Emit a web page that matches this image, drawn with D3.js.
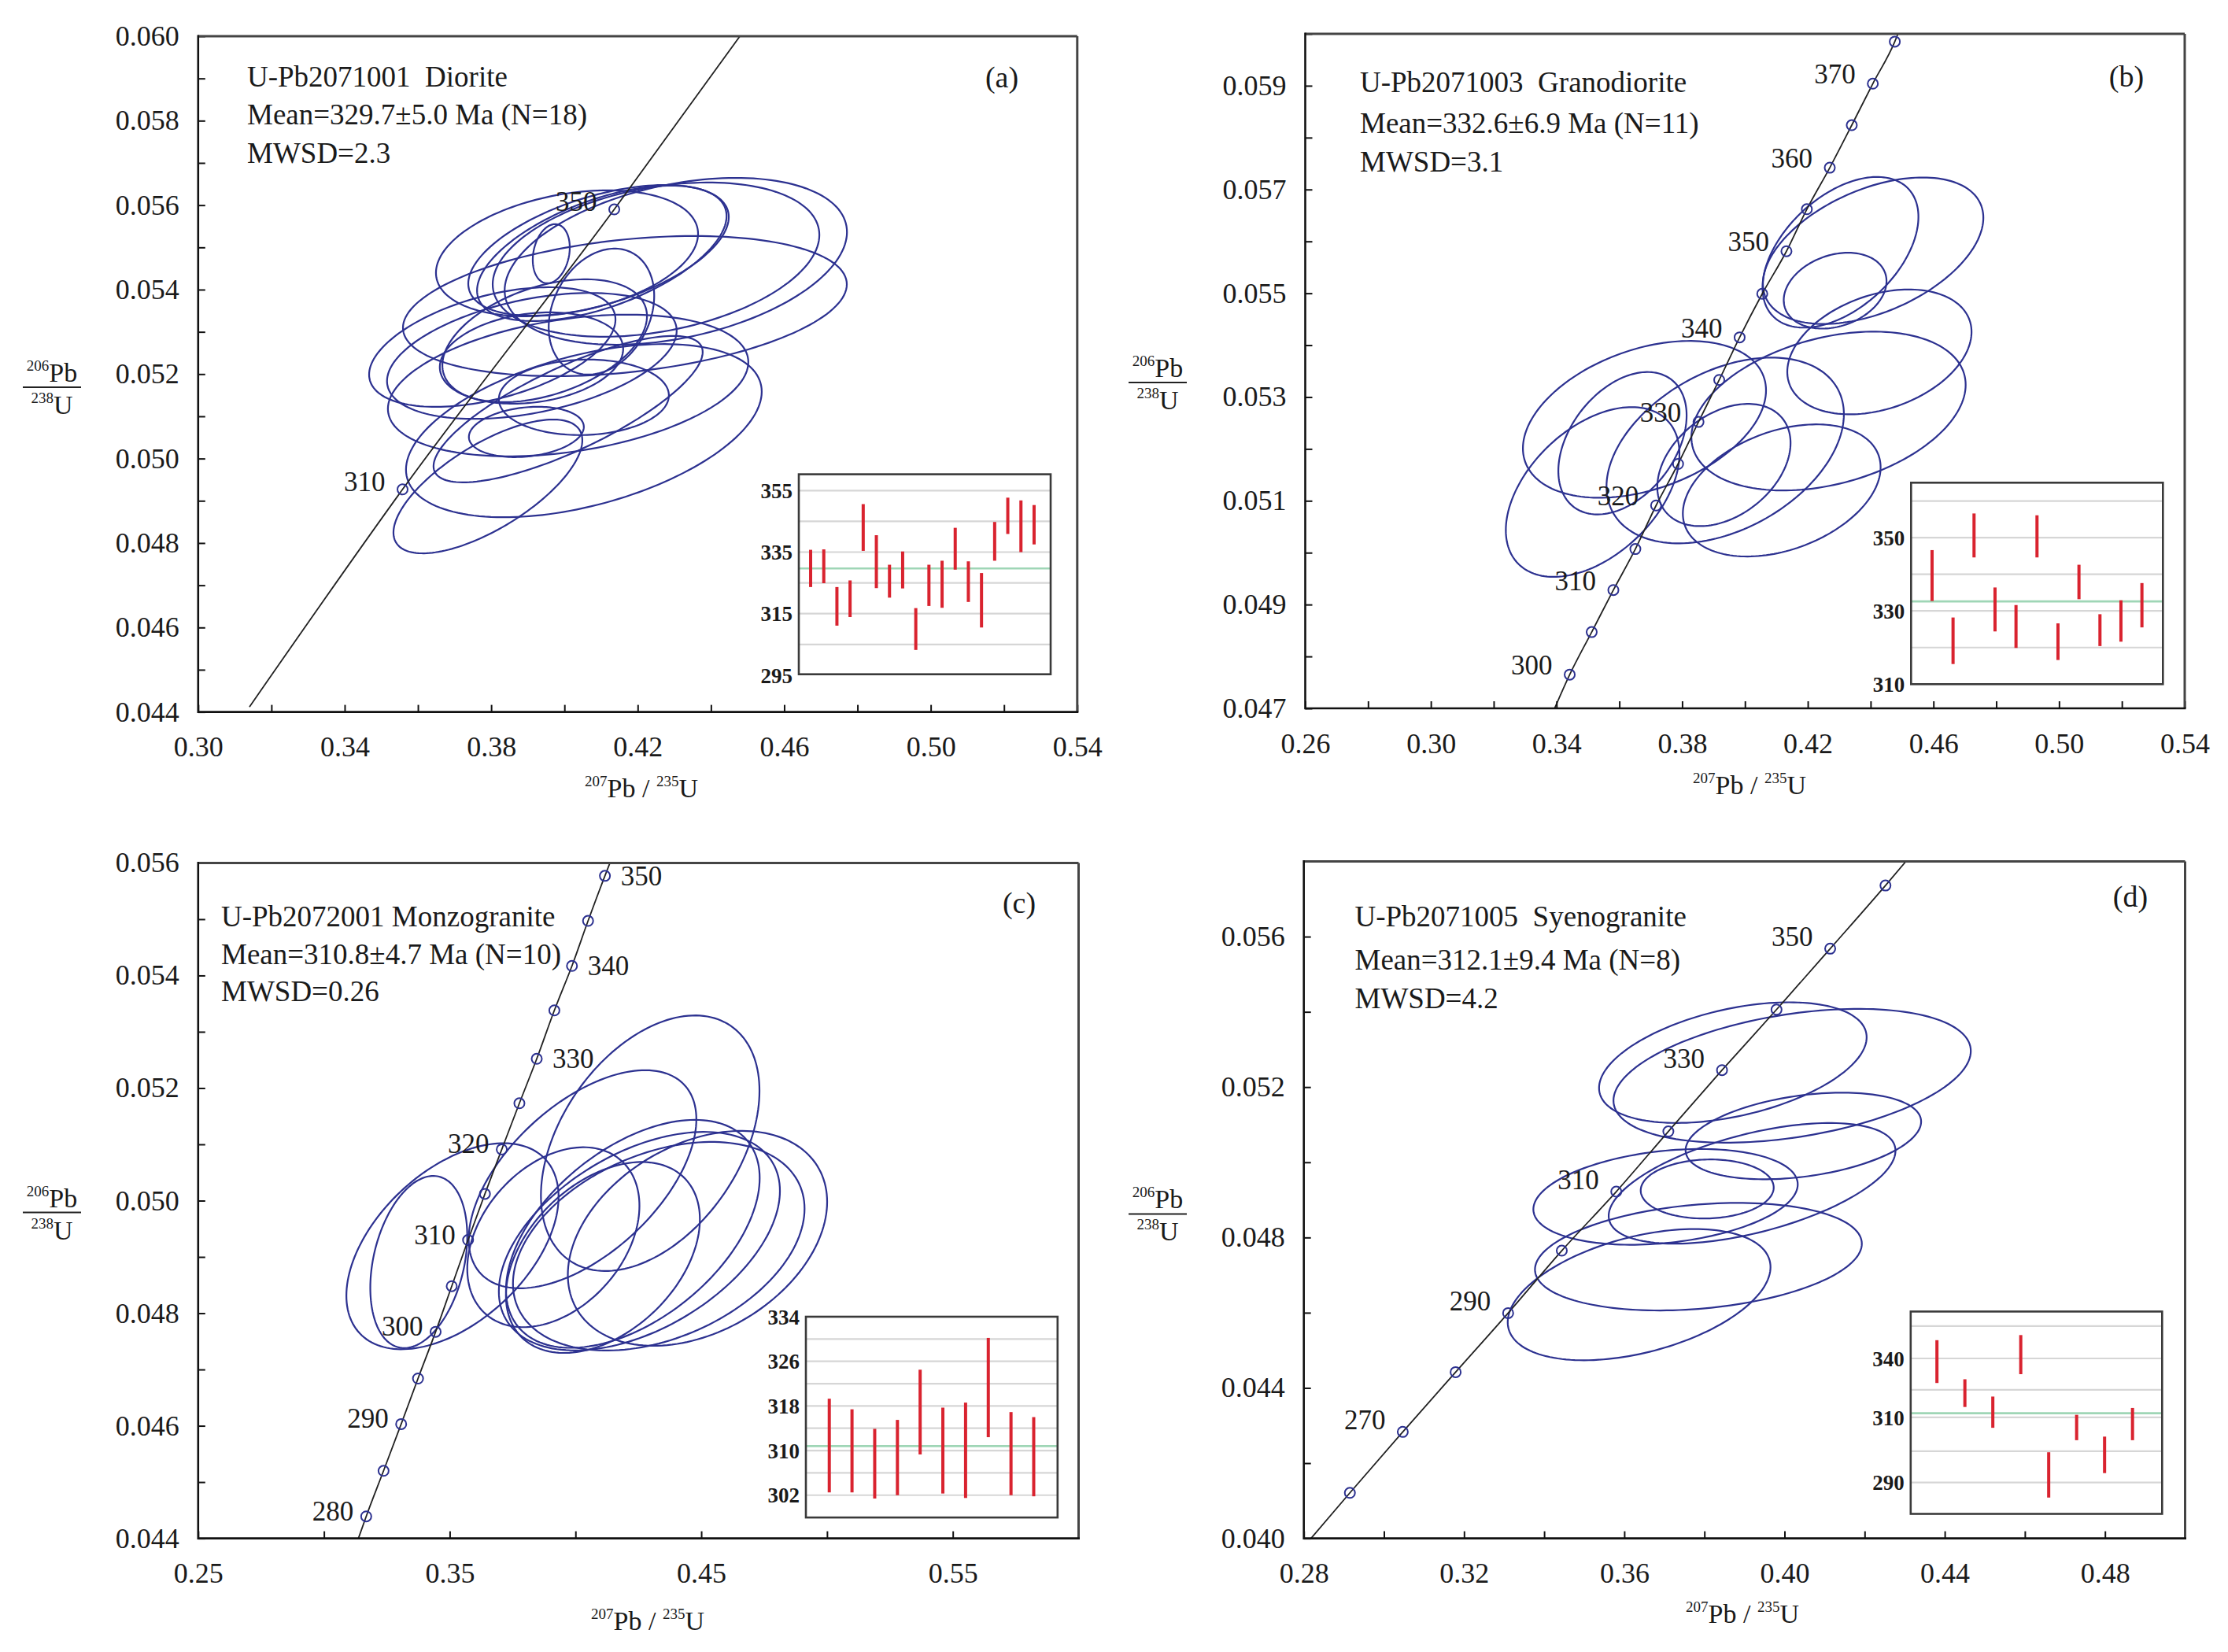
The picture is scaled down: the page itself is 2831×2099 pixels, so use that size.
<!DOCTYPE html>
<html><head><meta charset="utf-8">
<script src="https://cdn.jsdelivr.net/npm/d3@7"></script>
<style>
body{margin:0;background:#fff;}
svg text{font-family:"Liberation Serif","Times New Roman",serif;fill:#1a1a1a;}
.pre{white-space:pre;}
</style></head><body>
<svg id="chart" width="2831" height="2099"></svg>
<script>
// ================= DATA =================
// ---- Panel (a) U-Pb2071001 Diorite ----
const titleA = ["U-Pb2071001  Diorite", "Mean=329.7\u00b15.0 Ma (N=18)", "MWSD=2.3"];
const ellA_x   = [0.4304,0.4250,0.4165,0.4093,0.4007,0.3964,0.4101,0.3946,0.4102,0.3910,0.4053,0.3896,0.3791,0.4053,0.4010,0.4010,0.3803,0.3911];
const ellA_y   = [0.05467,0.05471,0.05361,0.05493,0.05486,0.05485,0.05348,0.05279,0.05486,0.05238,0.05145,0.05063,0.04934,0.05066,0.05173,0.05117,0.05264,0.05243];
const ellA_ex  = [0.04673,0.04459,0.06059,0.03556,0.03578,0.00505,0.0144,0.02793,0.03406,0.02503,0.02321,0.01569,0.02578,0.04856,0.0492,0.03674,0.03363,0.03954];
const ellA_ey  = [0.001975,0.001826,0.001659,0.001547,0.001491,0.0007,0.001491,0.001454,0.001603,0.001081,0.000894,0.000596,0.001584,0.00205,0.001677,0.001733,0.001416,0.001491];
const ellA_rho = [0.35,0.32,0.31,0.51,0.31,0.21,0.25,0.40,0.55,0.20,0.05,0.20,0.69,0.45,0.33,0.78,0.46,0.40];
const concA_age = [310, 350];
const concA_x = [0.3558, 0.4136];
const concA_y = [0.04927, 0.05590];
const concA_ends = [[0.3140, 0.04412], [0.4479, 0.0600]];
const concA_lab = [310, 350];
const xTicksA = [0.30,0.32,0.34,0.36,0.38,0.40,0.42,0.44,0.46,0.48,0.50,0.52,0.54];
const xLabsA  = [0.30,0.34,0.38,0.42,0.46,0.50,0.54];
const yTicksA = [0.044,0.045,0.046,0.047,0.048,0.049,0.050,0.051,0.052,0.053,0.054,0.055,0.056,0.057,0.058,0.059,0.060];
const yLabsA  = [0.044,0.046,0.048,0.050,0.052,0.054,0.056,0.058,0.060];
const insA_lo = [323.65,324.9,311.1,313.9,335.4,323.3,320.2,323.2,303.2,317.5,316.9,329.3,318.8,310.5,332.2,340.9,335.0,337.5];
const insA_hi = [335.75,335.9,323.65,325.8,350.6,340.5,330.9,335.2,316.8,330.9,332.2,342.9,332.0,328.2,344.8,352.7,351.8,350.3];
const insA_mean = 329.7;
const insA_labels = [355,335,315,295];
const insA_grid = [305,315,325,335,345,355];

// ---- Panel (b) U-Pb2071003 Granodiorite ----
const titleB = ["U-Pb2071003  Granodiorite", "Mean=332.6\u00b16.9 Ma (N=11)", "MWSD=3.1"];
const ellB_x   = [0.4304,0.4408,0.4287,0.4428,0.4266,0.3680,0.3610,0.3515,0.3937,0.3933,0.4117];
const ellB_y   = [0.05579,0.05582,0.05505,0.05387,0.05273,0.05257,0.05211,0.05117,0.05197,0.05169,0.05120];
const ellB_ex  = [0.02482,0.03509,0.01636,0.02933,0.04366,0.0387,0.02042,0.02764,0.03779,0.02121,0.03148];
const ellB_ey  = [0.001452,0.001412,0.000731,0.001203,0.001531,0.001511,0.001372,0.001636,0.00179,0.001178,0.001273];
const ellB_rho = [0.47,0.45,0.25,0.32,0.33,0.37,0.39,0.45,0.39,0.36,0.35];
const concB_age = [300,305,310,315,320,325,330,335,340,345,350,355,360,365,370,375];
const concB_x = [0.3442,0.3512,0.3581,0.3651,0.3717,0.3787,0.3852,0.3918,0.3983,0.4055,0.4132,0.4197,0.4270,0.4340,0.4407,0.4477];
const concB_y = [0.04765,0.04847,0.04928,0.05007,0.05091,0.05171,0.05252,0.05333,0.05415,0.05499,0.05581,0.05662,0.05742,0.05824,0.05904,0.05985];
const concB_ends = [[0.3394, 0.0470], [0.4487, 0.0600]];
const concB_lab = [300,310,320,330,340,350,360,370];
const xTicksB = [0.26,0.28,0.30,0.32,0.34,0.36,0.38,0.40,0.42,0.44,0.46,0.48,0.50,0.52,0.54];
const xLabsB  = [0.26,0.30,0.34,0.38,0.42,0.46,0.50,0.54];
const yTicksB = [0.047,0.048,0.049,0.050,0.051,0.052,0.053,0.054,0.055,0.056,0.057,0.058,0.059,0.060];
const yLabsB  = [0.047,0.049,0.051,0.053,0.055,0.057,0.059];
const insB_lo = [332.7,315.5,344.6,324.4,319.9,344.6,316.6,333.2,320.4,321.6,325.5];
const insB_hi = [346.6,328.2,356.6,336.4,331.6,356.1,326.6,342.6,329.1,332.9,337.6];
const insB_mean = 332.6;
const insB_labels = [350,330,310];
const insB_grid = [320,330,340,350,360];

// ---- Panel (c) U-Pb2072001 Monzogranite ----
const titleC = ["U-Pb2072001 Monzogranite", "Mean=310.8\u00b14.7 Ma (N=10)", "MWSD=0.26"];
const ellC_x   = [0.3377,0.3511,0.3912,0.4297,0.4028,0.4254,0.4485,0.4331,0.4228,0.4109];
const ellC_y   = [0.04891,0.04919,0.04935,0.05102,0.05038,0.04928,0.04933,0.04919,0.04941,0.04899];
const ellC_ex  = [0.01927,0.04218,0.03422,0.04344,0.04525,0.05587,0.05154,0.05796,0.05042,0.03855];
const ellC_ey  = [0.001529,0.00183,0.001598,0.00227,0.001937,0.001941,0.001909,0.001853,0.002025,0.001696];
const ellC_rho = [0.30,0.48,0.35,0.41,0.55,0.46,0.34,0.36,0.49,0.40];
const concC_age = [280,285,290,295,300,305,310,315,320,325,330,335,340,345,350];
const concC_x = [0.3168,0.3237,0.3307,0.3374,0.3444,0.3508,0.3573,0.3640,0.3707,0.3777,0.3846,0.3916,0.3986,0.4050,0.4117];
const concC_y = [0.04439,0.04520,0.04603,0.04684,0.04767,0.04848,0.04930,0.05012,0.05091,0.05173,0.05252,0.05338,0.05417,0.05497,0.05577];
const concC_ends = [[0.3137, 0.0440], [0.4137, 0.0560]];
const concC_lab = [280,290,300,310,320];
const concC_labRight = [330,340,350];
const xTicksC = [0.25,0.30,0.35,0.40,0.45,0.50,0.55,0.60];
const xLabsC  = [0.25,0.35,0.45,0.55];
const yTicksC = [0.044,0.045,0.046,0.047,0.048,0.049,0.050,0.051,0.052,0.053,0.054,0.055,0.056];
const yLabsC  = [0.044,0.046,0.048,0.050,0.052,0.054,0.056];
const insC_lo = [302.5,302.5,301.4,302.0,309.3,302.3,301.5,312.4,302.0,301.8];
const insC_hi = [319.3,317.4,313.9,315.5,324.5,317.7,318.6,330.2,316.9,316.0];
const insC_mean = 310.8;
const insC_labels = [334,326,318,310,302];
const insC_grid = [302,306,310,314,318,322,326,330];

// ---- Panel (d) U-Pb2071005 Syenogranite ----
const titleD = ["U-Pb2071005  Syenogranite", "Mean=312.1\u00b19.4 Ma (N=8)", "MWSD=4.2"];
const ellD_x   = [0.3871,0.4019,0.4047,0.3919,0.3703,0.3807,0.3785,0.3637];
const ellD_y   = [0.05265,0.05230,0.05070,0.04944,0.04908,0.04929,0.04749,0.04648];
const ellD_ex  = [0.0334,0.0446,0.0294,0.0358,0.0330,0.0166,0.0408,0.0328];
const ellD_ey  = [0.001604,0.001779,0.001151,0.001604,0.001273,0.000785,0.00143,0.001744];
const ellD_rho = [0.42,0.37,0.33,0.54,0.26,0.05,0.24,0.42];
const concD_age = [260,270,280,290,300,310,320,330,340,350,360];
const concD_x = [0.2915,0.3047,0.3179,0.3310,0.3444,0.3580,0.3710,0.3844,0.3980,0.4114,0.4252];
const concD_y = [0.04121,0.04283,0.04442,0.04599,0.04765,0.04922,0.05082,0.05245,0.05406,0.05568,0.05736];
const concD_ends = [[0.2818, 0.0400], [0.4303, 0.0580]];
const concD_lab = [270,290,310,330,350];
const xTicksD = [0.28,0.30,0.32,0.34,0.36,0.38,0.40,0.42,0.44,0.46,0.48,0.50];
const xLabsD  = [0.28,0.32,0.36,0.40,0.44,0.48];
const yTicksD = [0.040,0.042,0.044,0.046,0.048,0.050,0.052,0.054,0.056,0.058];
const yLabsD  = [0.040,0.044,0.048,0.052,0.056];
const insD_lo = [327.5,315.3,306.8,332.0,285.4,303.0,292.9,303.0];
const insD_hi = [349.3,329.4,320.6,351.9,299.3,311.3,304.1,314.8];
const insD_mean = 312.1;
const insD_labels = [340,310,290];
const insD_grid = [290,299.6,310,324,340,356.5];

// ================= LAYOUT / STYLE =================
const ELL_COL = "#2c3190";
const panels = [
 {id:"a", f:{l:251.8,r:1368.8,t:46,b:904.6}, xDom:[0.30,0.54], yDom:[0.044,0.060],
  xT:xTicksA, xL:xLabsA, yT:yTicksA, yL:yLabsA,
  ell:[ellA_x,ellA_y,ellA_ex,ellA_ey,ellA_rho],
  conc:{age:concA_age,x:concA_x,y:concA_y,ends:concA_ends,lab:concA_lab,labR:[], dxL:-22, dyL:2, dxR:20, dyR:12},
  title:titleA, tx:314, ty:[110,158,207], letter:"(a)", lx:1273, ly:111,
  ytc:{x:66,y:492}, xtc:{x:815,y:1013},
  ins:{l:1015,r:1335,t:602.6,b:856.7,xDom:[0.1,19.26],yDom:[295.3,360.3],yRange:null,
       lo:insA_lo,hi:insA_hi,mean:insA_mean,labels:insA_labels,grid:insA_grid}},
 {id:"b", f:{l:1658.5,r:2776,t:43,b:900}, xDom:[0.26,0.54], yDom:[0.047,0.060],
  xT:xTicksB, xL:xLabsB, yT:yTicksB, yL:yLabsB,
  ell:[ellB_x,ellB_y,ellB_ex,ellB_ey,ellB_rho],
  conc:{age:concB_age,x:concB_x,y:concB_y,ends:concB_ends,lab:concB_lab,labR:[], dxL:-22, dyL:0, dxR:20, dyR:12},
  title:titleB, tx:1728, ty:[117,169,218], letter:"(b)", lx:2702, ly:110,
  ytc:{x:1471,y:486}, xtc:{x:2223,y:1009},
  ins:{l:2428.3,r:2748.3,t:613.3,b:869.3,xDom:[0,12],yDom:[310,365],yRange:null,
       lo:insB_lo,hi:insB_hi,mean:insB_mean,labels:insB_labels,grid:insB_grid}},
 {id:"c", f:{l:251.8,r:1370.5,t:1096.4,b:1954.6}, xDom:[0.25,0.60], yDom:[0.044,0.056],
  xT:xTicksC, xL:xLabsC, yT:yTicksC, yL:yLabsC,
  ell:[ellC_x,ellC_y,ellC_ex,ellC_ey,ellC_rho],
  conc:{age:concC_age,x:concC_x,y:concC_y,ends:concC_ends,lab:concC_lab,labR:concC_labRight, dxL:-16, dyL:5, dxR:20, dyR:12},
  title:titleC, tx:281, ty:[1177,1225,1272], letter:"(c)", lx:1295, ly:1160,
  ytc:{x:66,y:1540.5}, xtc:{x:823,y:2071},
  ins:{l:1024,r:1343.8,t:1673,b:1928.1,xDom:[-0.03,11.05],yDom:[298,334],yRange:null,
       lo:insC_lo,hi:insC_hi,mean:insC_mean,labels:insC_labels,grid:insC_grid}},
 {id:"d", f:{l:1656.7,r:2776.5,t:1094.5,b:1954.6}, xDom:[0.28,0.50], yDom:[0.040,0.058],
  xT:xTicksD, xL:xLabsD, yT:yTicksD, yL:yLabsD,
  ell:[ellD_x,ellD_y,ellD_ex,ellD_ey,ellD_rho],
  conc:{age:concD_age,x:concD_x,y:concD_y,ends:concD_ends,lab:concD_lab,labR:[], dxL:-22, dyL:-3, dxR:20, dyR:12},
  title:titleD, tx:1721.5, ty:[1177,1232,1281], letter:"(d)", lx:2707, ly:1152,
  ytc:{x:1471,y:1542.4}, xtc:{x:2214,y:2062},
  ins:{l:2427.8,r:2747.3,t:1666.4,b:1923.5,xDom:[0.06,9.06],yDom:[280.4,290,310,340,363.9],
       yRange:[1923.5,1883.7,1800.9,1726,1666.4],
       lo:insD_lo,hi:insD_hi,mean:insD_mean,labels:insD_labels,grid:insD_grid}}
];

const svg = d3.select("#chart");
svg.append("rect").attr("width",2831).attr("height",2099).attr("fill","#fff");
const defs = svg.append("defs");

function ellipsePoints(cx, cy, ex, ey, rho) {
  const pts = [], n = 160, s = Math.sqrt(1 - rho*rho);
  for (let k = 0; k < n; k++) {
    const t = 2*Math.PI*k/n;
    pts.push([cx + ex*Math.cos(t), cy + ey*(rho*Math.cos(t) + s*Math.sin(t))]);
  }
  return pts;
}

panels.forEach(P => {
  const g = svg.append("g").attr("class","panel-"+P.id);
  const xs = d3.scaleLinear().domain(P.xDom).range([P.f.l, P.f.r]);
  const ys = d3.scaleLinear().domain(P.yDom).range([P.f.b, P.f.t]);
  const clipId = "clip-" + P.id;
  defs.append("clipPath").attr("id", clipId).append("rect")
    .attr("x", P.f.l).attr("y", P.f.t).attr("width", P.f.r - P.f.l).attr("height", P.f.b - P.f.t);
  const plot = g.append("g").attr("clip-path", `url(#${clipId})`);

  // ellipses
  const eLine = d3.line().x(d => xs(d[0])).y(d => ys(d[1])).curve(d3.curveLinearClosed);
  const [ex_, ey_, eex, eey, erho] = P.ell;
  ex_.forEach((cx, i) => {
    plot.append("path").attr("d", eLine(ellipsePoints(cx, ey_[i], eex[i], eey[i], erho[i])))
      .attr("fill","none").attr("stroke", ELL_COL).attr("stroke-width", 2.2);
  });

  // concordia
  const C = P.conc;
  const cpts = [C.ends[0]].concat(C.x.map((x,i) => [x, C.y[i]])).concat([C.ends[1]]);
  plot.append("path")
    .attr("d", d3.line().x(d => xs(d[0])).y(d => ys(d[1])).curve(d3.curveMonotoneX)(cpts))
    .attr("fill","none").attr("stroke","#222").attr("stroke-width",1.8);
  C.x.forEach((x,i) => {
    plot.append("circle").attr("cx", xs(x)).attr("cy", ys(C.y[i])).attr("r", 6.5)
      .attr("fill","none").attr("stroke", ELL_COL).attr("stroke-width", 2);
  });
  C.age.forEach((a,i) => {
    const X = xs(C.x[i]), Y = ys(C.y[i]);
    if (C.lab.includes(a)) {
      g.append("text").attr("x", X + C.dxL).attr("y", Y + C.dyL).attr("text-anchor","end")
        .attr("font-size", 35).text(a);
    } else if (C.labR.includes(a)) {
      g.append("text").attr("x", X + C.dxR).attr("y", Y + C.dyR).attr("text-anchor","start")
        .attr("font-size", 35).text(a);
    }
  });

  // axes ticks (inward)
  const axB = g.append("g").attr("transform", `translate(0,${P.f.b})`)
    .call(d3.axisBottom(xs).tickValues(P.xT).tickSize(-9).tickFormat(""));
  const axBL = g.append("g").attr("transform", `translate(0,${P.f.b})`)
    .call(d3.axisBottom(xs).tickValues(P.xL).tickSize(0).tickPadding(31).tickFormat(d3.format(".2f")));
  const axL = g.append("g").attr("transform", `translate(${P.f.l},0)`)
    .call(d3.axisLeft(ys).tickValues(P.yT).tickSize(-9).tickFormat(""));
  const axLL = g.append("g").attr("transform", `translate(${P.f.l},0)`)
    .call(d3.axisLeft(ys).tickValues(P.yL).tickSize(0).tickPadding(24).tickFormat(d3.format(".3f")));
  [axB, axBL, axL, axLL].forEach(a => {
    a.select(".domain").remove();
    a.selectAll("line").attr("stroke","#111").attr("stroke-width",2);
    a.selectAll("text").attr("font-family",'"Liberation Serif","Times New Roman",serif')
      .attr("font-size",36).attr("fill","#1a1a1a");
  });

  // frame
  g.append("line").attr("x1",P.f.l).attr("x2",P.f.r).attr("y1",P.f.t).attr("y2",P.f.t).attr("stroke","#444").attr("stroke-width",3);
  g.append("line").attr("x1",P.f.r).attr("x2",P.f.r).attr("y1",P.f.t).attr("y2",P.f.b).attr("stroke","#444").attr("stroke-width",3);
  g.append("line").attr("x1",P.f.l).attr("x2",P.f.r+1.5).attr("y1",P.f.b).attr("y2",P.f.b).attr("stroke","#111").attr("stroke-width",2.6);
  g.append("line").attr("x1",P.f.l).attr("x2",P.f.l).attr("y1",P.f.t-1.5).attr("y2",P.f.b+1.3).attr("stroke","#111").attr("stroke-width",2.6);

  // title lines
  P.title.forEach((t,i) => {
    g.append("text").attr("class","pre").attr("x",P.tx).attr("y",P.ty[i]).attr("font-size",37).text(t);
  });
  g.append("text").attr("x",P.lx).attr("y",P.ly).attr("text-anchor","middle").attr("font-size",38).text(P.letter);

  // x-axis title  207Pb / 235U
  const xt = g.append("text").attr("x",P.xtc.x).attr("y",P.xtc.y).attr("text-anchor","middle").attr("font-size",34);
  xt.append("tspan").attr("font-size",19).attr("dy",-14).text("207");
  xt.append("tspan").attr("dy",14).text("Pb");
  xt.append("tspan").attr("class","pre").text(" / ");
  xt.append("tspan").attr("font-size",19).attr("dy",-14).text("235");
  xt.append("tspan").attr("dy",14).text("U");

  // y-axis title stacked fraction
  const yc = P.ytc;
  const num = g.append("text").attr("x",yc.x).attr("y",yc.y-7).attr("text-anchor","middle").attr("font-size",34);
  num.append("tspan").attr("font-size",19).attr("dy",-14).text("206");
  num.append("tspan").attr("dy",14).text("Pb");
  g.append("line").attr("x1",yc.x-37).attr("x2",yc.x+37).attr("y1",yc.y).attr("y2",yc.y).attr("stroke","#222").attr("stroke-width",2);
  const den = g.append("text").attr("x",yc.x).attr("y",yc.y+34).attr("text-anchor","middle").attr("font-size",34);
  den.append("tspan").attr("font-size",19).attr("dy",-14).text("238");
  den.append("tspan").attr("dy",14).text("U");

  // inset weighted-mean plot
  const I = P.ins;
  const gi = g.append("g");
  const ix = d3.scaleLinear().domain(I.xDom).range([I.l, I.r]);
  const iy = I.yRange ? d3.scaleLinear().domain(I.yDom).range(I.yRange)
                      : d3.scaleLinear().domain(I.yDom).range([I.b, I.t]);
  gi.append("rect").attr("x",I.l).attr("y",I.t).attr("width",I.r-I.l).attr("height",I.b-I.t).attr("fill","#fff");
  I.grid.forEach(v => {
    gi.append("line").attr("x1",I.l).attr("x2",I.r).attr("y1",iy(v)).attr("y2",iy(v))
      .attr("stroke","#d6d6d6").attr("stroke-width",2.2);
  });
  gi.append("line").attr("x1",I.l).attr("x2",I.r).attr("y1",iy(I.mean)).attr("y2",iy(I.mean))
    .attr("stroke","#9fd6b6").attr("stroke-width",2.6);
  I.lo.forEach((lo,i) => {
    gi.append("line").attr("x1",ix(i+1)).attr("x2",ix(i+1)).attr("y1",iy(lo)).attr("y2",iy(I.hi[i]))
      .attr("stroke","#d9232f").attr("stroke-width",4);
  });
  gi.append("rect").attr("x",I.l).attr("y",I.t).attr("width",I.r-I.l).attr("height",I.b-I.t)
    .attr("fill","none").attr("stroke","#3a3a3a").attr("stroke-width",2.6);
  I.labels.forEach(v => {
    gi.append("text").attr("x",I.l-8).attr("y",iy(v)).attr("dy","0.36em").attr("text-anchor","end")
      .attr("font-size",27).attr("font-weight","bold").text(v);
  });
});
</script>
</body></html>
